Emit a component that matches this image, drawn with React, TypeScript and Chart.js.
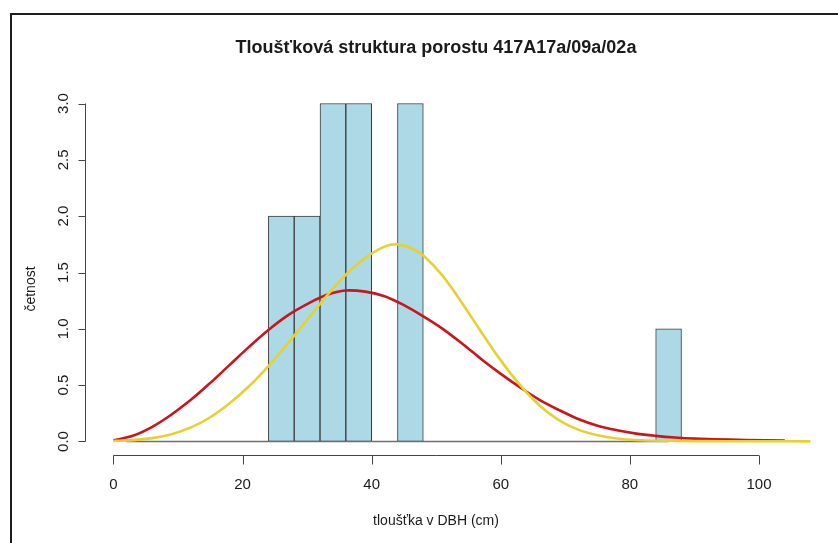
import React, { useEffect, useRef } from "react";
import { Chart, registerables } from "chart.js";

Chart.register(...registerables);

// ---- data ----
const binStarts = [24, 28, 32, 36, 40, 44, 48, 52, 56, 60, 64, 68, 72, 76, 80, 84];
const binWidth = 4;
const counts = [2, 2, 3, 3, 0, 3, 0, 0, 0, 0, 0, 0, 0, 0, 0, 1];

const redX = [0, 3, 6, 9, 12, 15, 18, 21, 24, 27, 30, 33, 36, 39, 42, 45, 48, 51, 54, 57, 60, 63, 66, 69, 72, 75, 78, 81, 84, 87, 90, 93, 98, 104];
const redY = [0.01, 0.05, 0.13, 0.24, 0.37, 0.52, 0.68, 0.84, 0.99, 1.12, 1.22, 1.3, 1.34, 1.33, 1.29, 1.21, 1.11, 1.0, 0.87, 0.73, 0.6, 0.48, 0.37, 0.28, 0.2, 0.14, 0.1, 0.07, 0.05, 0.035, 0.025, 0.02, 0.013, 0.008];

const yellowX = [0, 3, 6, 9, 12, 15, 18, 21, 24, 27, 30, 33, 36, 39, 42, 44, 46, 48, 51, 54, 57, 60, 63, 66, 69, 72, 75, 78, 81, 85, 90, 100, 108];
const yellowY = [0.005, 0.012, 0.03, 0.065, 0.125, 0.215, 0.34, 0.49, 0.67, 0.87, 1.08, 1.29, 1.48, 1.63, 1.73, 1.75, 1.72, 1.65, 1.47, 1.23, 0.97, 0.72, 0.5, 0.32, 0.19, 0.105, 0.055, 0.027, 0.013, 0.006, 0.003, 0.002, 0.001];

const baselineX = [2, 86];
const baselineY = [0, 0];

const xTicks = [0, 20, 40, 60, 80, 100];
const xTickLabels = ["0", "20", "40", "60", "80", "100"];
const yTicks = [0, 0.5, 1, 1.5, 2, 2.5, 3];
const yTickLabels = ["0.0", "0.5", "1.0", "1.5", "2.0", "2.5", "3.0"];

const titleText = "Tloušťková struktura porostu 417A17a/09a/02a";
const xTitleText = "tloušťka v DBH (cm)";
const yTitleText = "četnost";

const FONT = '"Liberation Sans", Arial, sans-serif';

const axesPlugin = {
  id: "rAxes",
  afterDraw(chart: any) {
    const ctx = chart.ctx as CanvasRenderingContext2D;
    const xs = chart.scales.x;
    const ys = chart.scales.y;
    const area = chart.chartArea;
    ctx.save();

    // outer frame
    ctx.strokeStyle = "#1e1e1e";
    ctx.lineWidth = 2;
    ctx.beginPath();
    ctx.moveTo(11, 560);
    ctx.lineTo(11, 14);
    ctx.lineTo(850, 14);
    ctx.stroke();

    ctx.strokeStyle = "#444";
    ctx.lineWidth = 1;
    ctx.fillStyle = "#1a1a1a";

    // x axis
    const axY = Math.round(area.bottom) + 0.5;
    ctx.beginPath();
    ctx.moveTo(xs.getPixelForValue(xTicks[0]), axY);
    ctx.lineTo(xs.getPixelForValue(xTicks[xTicks.length - 1]), axY);
    xTicks.forEach((t) => {
      const px = Math.round(xs.getPixelForValue(t)) + 0.5;
      ctx.moveTo(px, axY);
      ctx.lineTo(px, axY + 9);
    });
    ctx.stroke();
    ctx.font = `15px ${FONT}`;
    ctx.textAlign = "center";
    ctx.textBaseline = "middle";
    xTicks.forEach((t, i) => {
      ctx.fillText(xTickLabels[i], xs.getPixelForValue(t), axY + 29);
    });

    // y axis
    const axX = Math.round(area.left) + 0.5;
    ctx.beginPath();
    ctx.moveTo(axX, ys.getPixelForValue(yTicks[0]));
    ctx.lineTo(axX, ys.getPixelForValue(yTicks[yTicks.length - 1]));
    yTicks.forEach((t) => {
      const py = Math.round(ys.getPixelForValue(t)) + 0.5;
      ctx.moveTo(axX, py);
      ctx.lineTo(axX - 7, py);
    });
    ctx.stroke();
    yTicks.forEach((t, i) => {
      ctx.save();
      ctx.translate(axX - 22, ys.getPixelForValue(t));
      ctx.rotate(-Math.PI / 2);
      ctx.fillText(yTickLabels[i], 0, 0);
      ctx.restore();
    });

    // titles
    const cx = 436;
    ctx.font = `14px ${FONT}`;
    ctx.fillText(xTitleText, cx, 521);
    ctx.save();
    ctx.translate(31, 289);
    ctx.rotate(-Math.PI / 2);
    ctx.fillText(yTitleText, 0, 0);
    ctx.restore();

    ctx.font = `bold 18px ${FONT}`;
    ctx.fillText(titleText, cx, 48);

    ctx.restore();
  },
};

export default function App() {
  const canvasRef = useRef<HTMLCanvasElement | null>(null);

  useEffect(() => {
    const canvas = canvasRef.current;
    if (!canvas) return;

    const barData = binStarts.map((b, i) => ({ x: b + binWidth / 2, y: counts[i] }));
    const red = redX.map((x, i) => ({ x, y: redY[i] }));
    const yellow = yellowX.map((x, i) => ({ x, y: yellowY[i] }));
    const base = baselineX.map((x, i) => ({ x, y: baselineY[i] }));

    const chart = new Chart(canvas, {
      type: "bar",
      data: {
        datasets: [
          {
            type: "line",
            data: yellow,
            borderColor: "#E6D130",
            borderWidth: 2.6,
            pointRadius: 0,
            fill: false,
            tension: 0.35,
            order: 1,
          } as any,
          {
            type: "line",
            data: red,
            borderColor: "#C8161E",
            borderWidth: 2.6,
            pointRadius: 0,
            fill: false,
            tension: 0.35,
            order: 2,
          } as any,
          {
            type: "line",
            data: base,
            borderColor: "#6e6e6e",
            borderWidth: 1.6,
            pointRadius: 0,
            fill: false,
            order: 3,
          } as any,
          {
            type: "bar",
            data: barData,
            backgroundColor: "#ADD8E6",
            borderColor: "#3c3c3c",
            borderWidth: (c: any) => (c.raw && c.raw.y > 0 ? 1 : 0),
            borderSkipped: false,
            barPercentage: 1,
            categoryPercentage: 1,
            grouped: false,
            order: 4,
          } as any,
        ],
      },
      options: {
        responsive: false,
        maintainAspectRatio: false,
        animation: false,
        layout: { padding: { left: 85, right: 27.4, top: 90, bottom: 88 } },
        scales: {
          x: {
            type: "linear",
            min: -4.41,
            max: 108,
            offset: false,
            display: false,
            grid: { offset: false },
            ticks: { stepSize: 20 },
          },
          y: { type: "linear", min: -0.12, max: 3.12, display: false },
        },
        plugins: {
          legend: { display: false },
          tooltip: { enabled: false },
          title: { display: false },
        },
      },
      plugins: [axesPlugin],
    });

    return () => chart.destroy();
  }, []);

  return (
    <div style={{ position: "absolute", left: 0, top: 0, width: 838, height: 543, background: "#fff", overflow: "hidden" }}>
      <canvas ref={canvasRef} width={838} height={543} style={{ display: "block" }} />
    </div>
  );
}
